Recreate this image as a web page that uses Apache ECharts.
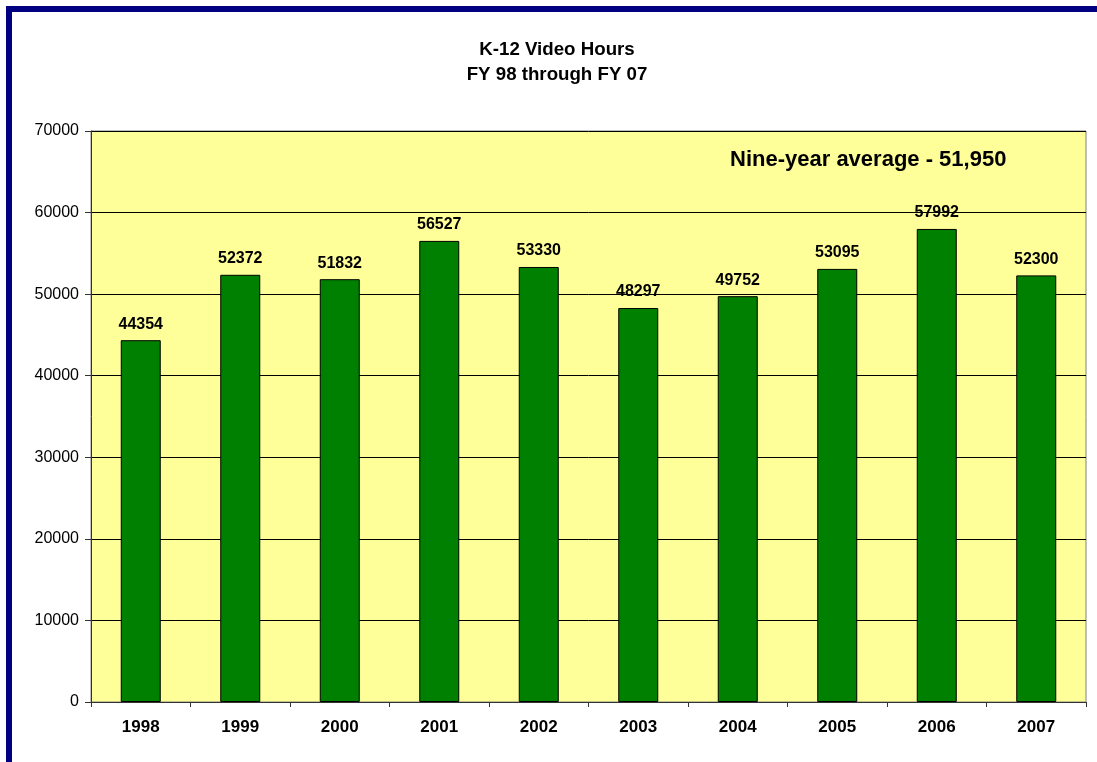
<!DOCTYPE html>
<html><head><meta charset="utf-8">
<script src="https://cdn.jsdelivr.net/npm/echarts@6/dist/echarts.min.js"></script>
<style>html,body{margin:0;padding:0;background:#fff;}#c{width:1097px;height:762px;}</style>
</head><body><div id="c"></div>
<script>
const categories = ['1998','1999','2000','2001','2002','2003','2004','2005','2006','2007'];
const hours = [44354, 52372, 51832, 56527, 53330, 48297, 49752, 53095, 57992, 52300];
const titleLines = ['K-12 Video Hours', 'FY 98 through FY 07'];
const note = 'Nine-year average - 51,950';
const yTicks = {min: 0, max: 70000, interval: 10000};

const chart = echarts.init(document.getElementById('c'));
const F = '"Liberation Sans", Arial, sans-serif';
chart.setOption({
  animation: false,
  backgroundColor: '#fff',
  textStyle: {fontFamily: F},
  title: {
    text: titleLines.join('\n'),
    left: 557, textAlign: 'center', top: 38, padding: 0,
    textStyle: {fontFamily: F, fontSize: 18.7, fontWeight: 'bold', color: '#000', lineHeight: 24.5}
  },
  graphic: [
    {type: 'rect', left: 6, top: 6, shape: {width: 1200, height: 6}, style: {fill: '#000080'}, z: 10},
    {type: 'rect', left: 6, top: 6, shape: {width: 6, height: 900}, style: {fill: '#000080'}, z: 10},
    {type: 'text', x: 730, y: 160, style: {text: note, font: 'bold 22px ' + F, fill: '#000', textVerticalAlign: 'middle'}, z: 10}
  ],
  grid: {
    left: 91, top: 131, width: 995, height: 571,
    show: true, backgroundColor: '#FFFF99', borderColor: '#808080', borderWidth: 1
  },
  xAxis: {
    type: 'category', data: categories,
    axisLine: {lineStyle: {color: '#333', width: 1}},
    axisTick: {show: true, length: 5, lineStyle: {color: '#333'}},
    axisLabel: {fontFamily: F, fontSize: 17, fontWeight: 'bold', color: '#000', margin: 17}
  },
  yAxis: {
    type: 'value', min: yTicks.min, max: yTicks.max, interval: yTicks.interval,
    axisLine: {show: true, lineStyle: {color: '#333', width: 1}},
    axisTick: {show: true, length: 6, lineStyle: {color: '#333'}},
    axisLabel: {fontFamily: F, fontSize: 16, color: '#000', margin: 12, formatter: v => String(v)},
    splitLine: {show: true, lineStyle: {color: '#000', width: 1}}
  },
  series: [{
    type: 'bar', data: hours, barWidth: 40,
    itemStyle: {color: '#008000', borderColor: '#000', borderWidth: 1},
    label: {show: true, position: 'top', distance: 8, fontFamily: F, fontSize: 16, fontWeight: 'bold', color: '#000'}
  }]
});
</script></body></html>
